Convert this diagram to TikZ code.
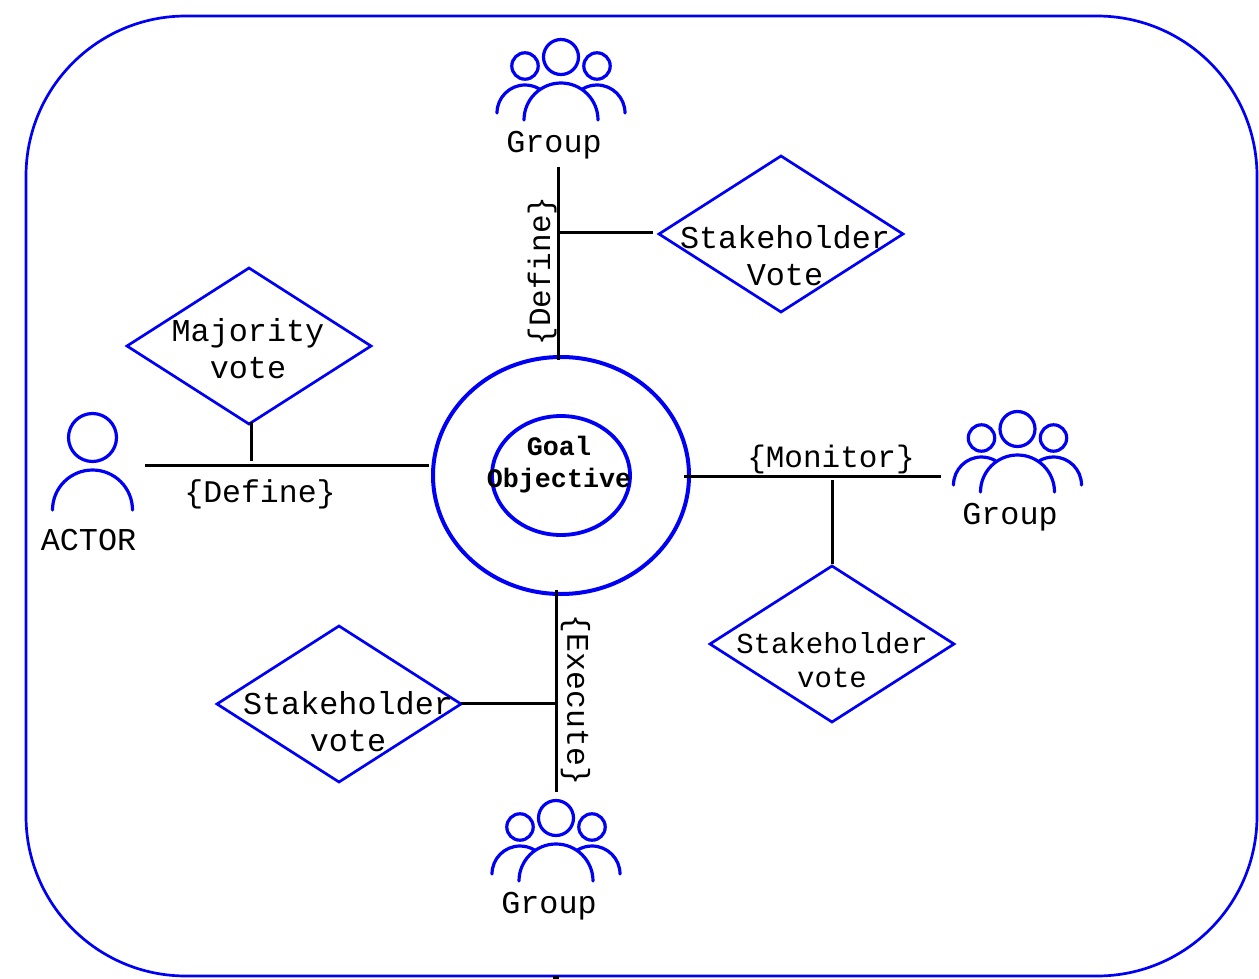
\documentclass[tikz,border=0pt]{standalone}
\usepackage{fontspec}
\setmainfont{Liberation Mono}
\usetikzlibrary{shapes.geometric}
\definecolor{iconblue}{RGB}{0,0,245}
\tikzset{
  blueline/.style={draw=iconblue,line width=3.2pt,line cap=round},
  frameshape/.style={draw=iconblue,line width=2.7pt,rounded corners=160pt,minimum width=1231pt,minimum height=960pt,inner sep=0pt},
  votebox/.style={diamond,draw=iconblue,line width=2.7pt,minimum width=244pt,minimum height=156pt,aspect=1.564,inner sep=0pt,outer sep=0pt},
  ringbig/.style={ellipse,draw=iconblue,line width=4pt,minimum width=256pt,minimum height=237pt,inner sep=0pt,outer sep=0pt},
  ringsmall/.style={ellipse,draw=iconblue,line width=3.8pt,minimum width=138pt,minimum height=119pt,inner sep=0pt,outer sep=0pt},
  biglabel/.style={inner sep=0pt,align=center,font=\fontsize{31.8}{37}\selectfont},
  smalllabel/.style={inner sep=0pt,align=center,font=\fontsize{29}{34}\selectfont},
  goallabel/.style={inner sep=0pt,align=center,font=\bfseries\fontsize{26.7}{32}\selectfont},
  link/.style={draw=black,line width=3pt},
  groupicon/.pic={
    \draw[blueline] (0,0) circle[radius=17.5pt];
    \draw[blueline] (-36,9) circle[radius=13.2pt];
    \draw[blueline] (36,9) circle[radius=13.2pt];
    \draw[blueline] (-37,63) arc[start angle=180,end angle=0,radius=37pt];
    \draw[blueline] (-64,56) arc[start angle=180,end angle=60,radius=28pt];
    \draw[blueline] (64,56) arc[start angle=0,end angle=120,radius=28pt];
  },
  actoricon/.pic={
    \draw[blueline] (0,0) circle[radius=24pt];
    \draw[blueline] (-40,72.5) arc[start angle=180,end angle=0,radius=40pt];
  }
}
\begin{document}
\begin{tikzpicture}[x=1pt,y=-1pt]
\useasboundingbox (0,0) rectangle (1259,979);
\fill[white] (0,0) rectangle (1259,979);
\node[frameshape] (frame) at (641.5,496) {};
\coordinate (stubA) at (556,975.5);
\coordinate (stubB) at (556,979);
\draw[draw=black,line width=6pt] (stubA) -- (stubB);

% icons
\pic at (561,57) {groupicon};
\pic at (1017.5,429) {groupicon};
\pic at (556,818) {groupicon};
\pic at (92.5,437.5) {actoricon};

% labels of actors
\node[biglabel] (grpT) at (554,145) {Group};
\node[biglabel] (grpR) at (1010,517) {Group};
\node[biglabel] (grpB) at (549,906) {Group};
\node[biglabel] (actor) at (88.5,540.5) {ACTOR};

% centre
\node[ringbig] (outer) at (561,475.5) {};
\node[ringsmall] (inner) at (561,475.5) {};
\node[goallabel] (goal) at (559,464.5) {Goal\\Objective};

% diamonds
\node[votebox] (dT) at (781,234) {};
\node[votebox] (dL) at (249,346) {};
\node[votebox] (dR) at (832,644) {};
\node[votebox] (dB) at (339,704) {};
\node[biglabel] (tT) at (785,255.5) {Stakeholder\\Vote};
\node[biglabel] (tL) at (248,348.5) {Majority\\vote};
\node[smalllabel] (tR) at (832,660) {Stakeholder\\vote};
\node[biglabel] (tB) at (348,721.5) {Stakeholder\\vote};

% connector ends
\coordinate (aT) at (558,167);
\coordinate (bT) at (558,360);
\coordinate (cT) at (558,232);
\coordinate (eT) at (653,232);
\coordinate (aL) at (145,465);
\coordinate (bL) at (429,465);
\coordinate (cL) at (251,461);
\coordinate (eL) at (251,422);
\coordinate (aR) at (684,476);
\coordinate (bR) at (941,476);
\coordinate (cR) at (832,480);
\coordinate (eR) at (832,564);
\coordinate (aB) at (556,590);
\coordinate (bB) at (556,792);
\coordinate (cB) at (556,703);
\coordinate (eB) at (461,703);

\draw[link] (aT) -- (bT);
\draw[link] (cT) -- (eT);
\draw[link] (aL) -- (bL);
\draw[link] (cL) -- (eL);
\draw[link] (aR) -- (bR);
\draw[link] (cR) -- (eR);
\draw[link] (aB) -- (bB);
\draw[link] (cB) -- (eB);

% connector labels
\node[biglabel,font=\fontsize{31}{37}\selectfont,rotate=90] (lT) at (542,271) {\{Define\}};
\node[biglabel,font=\fontsize{31.5}{37}\selectfont] (lL) at (260,494.5) {\{Define\}};
\node[biglabel,font=\fontsize{31}{37}\selectfont] (lR) at (831,459) {\{Monitor\}};
\node[biglabel,font=\fontsize{31.5}{37}\selectfont,rotate=-90] (lB) at (575.5,700) {\{Execute\}};
\end{tikzpicture}
\end{document}
